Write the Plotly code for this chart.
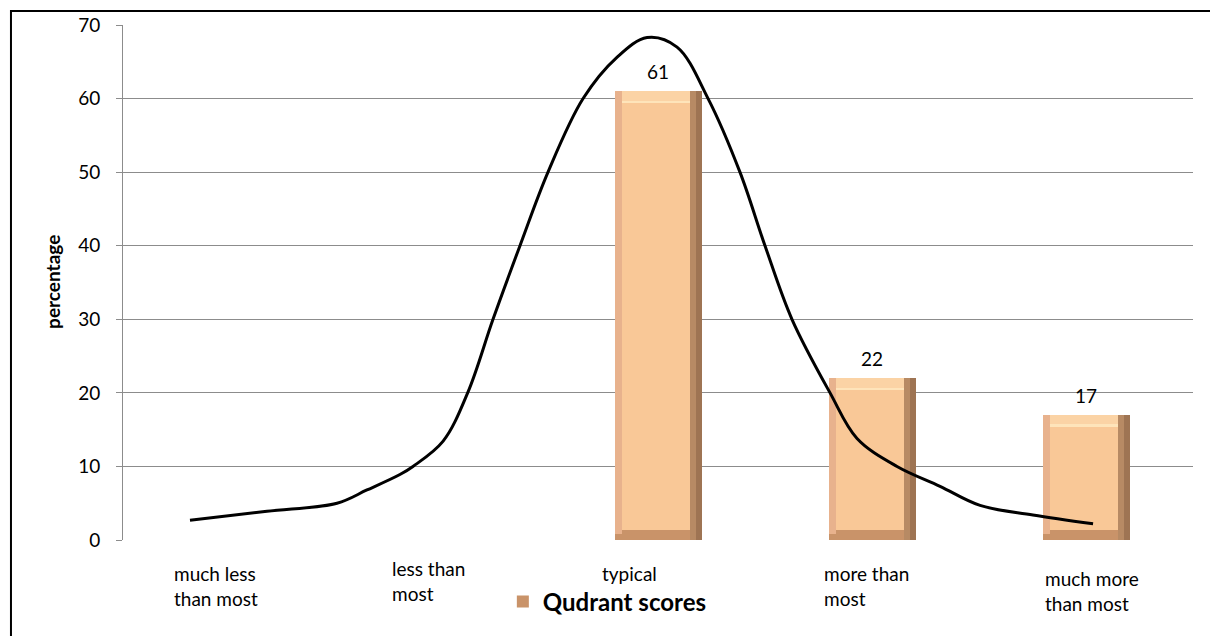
import plotly.graph_objects as go

# ---------------- data ----------------
categories = ["much less than most", "less than most", "typical", "more than most", "much more than most"]
category_labels = ["much less<br>than most", "less than<br>most", "typical", "more than<br>most", "much more<br>than most"]
percent = [None, None, 61, 22, 17]
series_name = "Qudrant scores"
y_ticks = [0, 10, 20, 30, 40, 50, 60, 70]

# traced normal-like curve (x in category units, y in percent)
curve_x = [-0.187, 0.173, 0.50, 0.64, 0.794, 0.855, 0.995, 1.112, 1.229, 1.355, 1.486, 1.650,
           1.808, 1.949, 2.089, 2.234, 2.383, 2.50, 2.626, 2.804, 2.930, 3.117, 3.318, 3.505,
           3.752, 4.033]
curve_y = [2.7, 3.9, 5.0, 6.8, 8.9, 10.0, 13.4, 20.1, 30.0, 40.0, 50.0, 60.0,
           65.6, 68.3, 67.0, 60.0, 50.0, 40.0, 30.0, 20.0, 13.8, 10.0, 7.3, 4.7,
           3.4, 2.2]

# ---------------- styles ----------------
FONT = "Lato"
W = 0.4065          # bar width (category units)
LE, RE = 0.033, 0.056   # bevel edge widths
RE_OUT = 0.028
BEV = 1.35          # bevel height (value units)
label_dx = [-58, -54, -58, -50, -43]
label_dy = [-20, -15, -20, -20, -25]

inner_w = W - LE - RE
def sub(vals, f):
    return [f(v) if v is not None else None for v in vals]

face_base = sub(percent, lambda v: BEV)
face_h = sub(percent, lambda v: v - 2 * BEV)
top_base = sub(percent, lambda v: v - BEV)
top_h = sub(percent, lambda v: BEV)
edge_base = sub(percent, lambda v: BEV * 0.6)
edge_h = sub(percent, lambda v: v - BEV * 0.6)
hl_base = sub(percent, lambda v: v - BEV - 0.25)
hl_h = sub(percent, lambda v: 0.3)

fig = go.Figure()
# bottom/outer bevel (legend entry)
fig.add_trace(go.Bar(x=categories, y=percent, width=W, offset=-W / 2,
                     marker=dict(color="#C99369", line=dict(width=0)),
                     name=series_name, showlegend=True, hoverinfo="skip"))
# left bevel
fig.add_trace(go.Bar(x=categories, y=edge_h, base=edge_base, width=LE, offset=-W / 2,
                     marker=dict(color="#E8B28D", line=dict(width=0)),
                     showlegend=False, hoverinfo="skip"))
# right bevel (two tones)
fig.add_trace(go.Bar(x=categories, y=percent, width=RE, offset=W / 2 - RE,
                     marker=dict(color="#B78A64", line=dict(width=0)),
                     showlegend=False, hoverinfo="skip"))
fig.add_trace(go.Bar(x=categories, y=percent, width=RE_OUT, offset=W / 2 - RE_OUT,
                     marker=dict(color="#9E7453", line=dict(width=0)),
                     showlegend=False, hoverinfo="skip"))
# face
fig.add_trace(go.Bar(x=categories, y=face_h, base=face_base, width=inner_w, offset=-W / 2 + LE,
                     marker=dict(color="#F9C897", line=dict(width=0)),
                     showlegend=False, hoverinfo="skip"))
# top bevel + highlight
fig.add_trace(go.Bar(x=categories, y=top_h, base=top_base, width=inner_w, offset=-W / 2 + LE,
                     marker=dict(color="#FBD3A5", line=dict(width=0)),
                     showlegend=False, hoverinfo="skip"))
fig.add_trace(go.Bar(x=categories, y=hl_h, base=hl_base, width=inner_w, offset=-W / 2 + LE,
                     marker=dict(color="#FEE4BA", line=dict(width=0)),
                     showlegend=False, hoverinfo="skip"))

fig.add_trace(go.Scatter(x=curve_x, y=curve_y, xaxis="x2", mode="lines",
                         line=dict(color="black", width=3, shape="spline", smoothing=1.0),
                         showlegend=False, hoverinfo="skip"))

annotations = []
for c, v in zip(categories, percent):
    if v is not None:
        annotations.append(dict(x=c, y=v, xref="x", yref="y", text=str(v), showarrow=False,
                                yanchor="bottom", yshift=6, font=dict(family=FONT, size=19, color="black")))
for c, lab, dx, dy in zip(categories, category_labels, label_dx, label_dy):
    annotations.append(dict(x=c, y=0, xref="x", yref="y", text=lab, showarrow=False,
                            xanchor="left", yanchor="top", align="left", xshift=dx, yshift=dy,
                            font=dict(family=FONT, size=19, color="black")))
annotations.append(dict(x=-0.0655, y=0.501, xref="paper", yref="paper", text="<b>percentage</b>",
                        textangle=-90, showarrow=False, xanchor="center", yanchor="middle",
                        font=dict(family=FONT, size=19, color="black")))

fig.update_layout(
    width=1210, height=636,
    margin=dict(l=123, r=17, t=25, b=94),
    paper_bgcolor="white", plot_bgcolor="white",
    barmode="overlay", bargap=0,
    font=dict(family=FONT, size=19, color="black"),
    xaxis=dict(type="category", range=[-0.5, 4.5], showticklabels=False, showgrid=False,
               showline=False, ticks="", zeroline=False),
    xaxis2=dict(overlaying="x", range=[-0.5, 4.5], visible=False),
    yaxis=dict(range=[0, 70], tickvals=y_ticks, showgrid=True, gridcolor="#8C8C8C", gridwidth=1,
               showline=True, linecolor="#8C8C8C", linewidth=1, ticks="outside", ticklen=6,
               tickcolor="#8C8C8C", ticklabelstandoff=12, zeroline=False,
               tickfont=dict(family=FONT, size=19, color="black")),
    legend=dict(orientation="h", x=0.355, xanchor="left", y=-0.12, yanchor="middle",
                font=dict(family=FONT, size=24, color="black", weight="bold"),
                bgcolor="rgba(0,0,0,0)", itemwidth=30),
    annotations=annotations,
    shapes=[dict(type="rect", xref="paper", yref="paper", x0=-0.1047, x1=1.1, y0=-0.2, y1=1.027,
                 line=dict(color="black", width=2), fillcolor="rgba(0,0,0,0)", layer="above")],
    showlegend=True,
)

fig.write_html("out.html", config={"displayModeBar": False},
               post_script="document.body.style.margin='0';document.body.style.overflow='hidden';")
